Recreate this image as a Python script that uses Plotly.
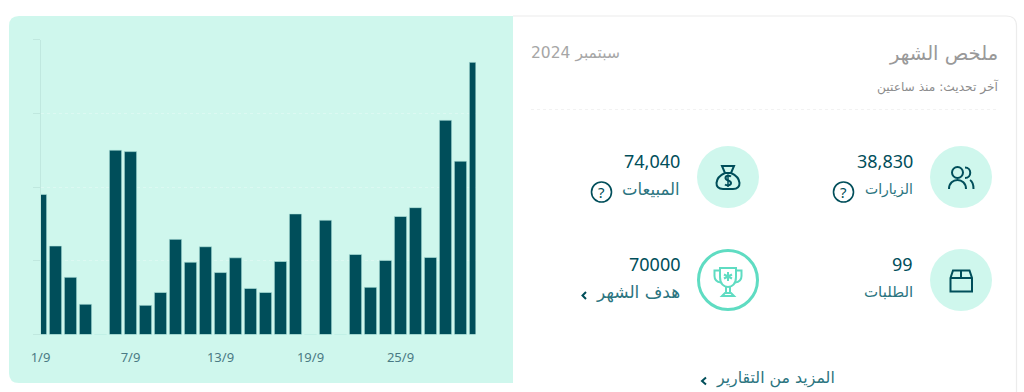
import re
import plotly.graph_objects as go

days = list(range(1, 31))
day_labels = [f"{d}/9" for d in days]
daily_sales = [3800, 2400, 1550, 820, 0, 5000, 4960, 790, 1140, 2580,
               1960, 2380, 1680, 2080, 1250, 1140, 1980, 3270, 0, 3100,
               0, 2170, 1280, 2010, 3200, 3440, 2090, 5810, 4700, 7380]
y_ticks = [0, 2000, 4000, 6000, 8000]
x_tick_days = ["1/9", "7/9", "13/9", "19/9", "25/9"]

title_text = "ملخص الشهر"
updated_text = "آخر تحديث: منذ ساعتين"
month_text = "سبتمبر 2024"
visits_value, visits_label = "38,830", "الزيارات"
sales_value, sales_label = "74,040", "المبيعات"
orders_value, orders_label = "99", "الطلبات"
goal_value, goal_label = "70000", "هدف الشهر"
more_text = "المزيد من التقارير"

W, H = 1024, 392
DARK = "#004e5a"
MID = "#2b7480"
MINT = "#cff7ed"
TEAL = "#5fdcc2"
FONT = "Noto Sans, DejaVu Sans, sans-serif"
ARFONT = "DejaVu Sans, Noto Sans, sans-serif"


def px(x):
    return x / W


def py(y):
    return 1 - y / H


def path(d):
    nums = iter(re.findall(r"[A-Za-z]|-?\d+\.?\d*", d))
    out, is_x = [], True
    for tok in nums:
        if tok.isalpha():
            out.append(tok)
            is_x = True
        else:
            out.append(f"{px(float(tok)):.5f}" if is_x else f"{py(float(tok)):.5f}")
            is_x = not is_x
    return " ".join(out)


def pshape(d, color=DARK, width=2, fill=None, layer="above", dash=None):
    line = dict(color=color, width=width)
    if dash:
        line["dash"] = dash
    return dict(type="path", xref="paper", yref="paper", path=path(d), line=line,
                fillcolor=fill or "rgba(0,0,0,0)", layer=layer)


def circle(cx, cy, r, fill=None, color=None, width=0, layer="below"):
    return dict(type="circle", xref="paper", yref="paper",
                x0=px(cx - r), x1=px(cx + r), y0=py(cy + r), y1=py(cy - r),
                fillcolor=fill or "rgba(0,0,0,0)",
                line=dict(color=color or "rgba(0,0,0,0)", width=width), layer=layer)


def label(x, y, s, size, color, anchor="right", family=ARFONT):
    shift = {"right": 2, "left": -2, "center": 0}[anchor]
    return dict(xref="paper", yref="paper", x=px(x), y=py(y), text=s, showarrow=False,
                xanchor=anchor, yanchor="middle", xshift=shift,
                font=dict(size=size, color=color, family=family))


shapes = [
    # card outline and panel
    pshape("M 513 16 L 1006 16 Q 1016.5 16 1016.5 26 L 1016.5 392", color="#ececec", width=1.2, layer="below"),
    pshape("M 513 16 L 19 16 Q 9 16 9 26 L 9 373 Q 9 383 19 383 L 513 383 Z",
           color="rgba(0,0,0,0)", width=0, fill=MINT, layer="below"),
    pshape("M 531 109.5 L 998 109.5", color="#f2f2f2", width=1, dash="dot", layer="below"),
    # icon discs
    circle(961, 177, 31, MINT),
    circle(728, 177, 31, MINT),
    circle(961, 280, 31, MINT),
    circle(728, 280, 29.5, "#ffffff", TEAL, 3),
    # help rings
    circle(843.5, 192, 10, None, DARK, 1.6, "above"),
    circle(601.5, 192, 10, None, DARK, 1.6, "above"),
    # visitors icon
    circle(957.5, 172.5, 5.5, None, DARK, 2, "above"),
    pshape("M 949 189 C 949 177 966 177 966 189"),
    pshape("M 965 167.5 C 972 167.5 972 178 965 178"),
    pshape("M 970 180 C 972.5 181.5 973.5 185 973.5 189"),
    # money bag icon
    pshape("M 722 166 L 734 166 L 731 173 C 742 178 742 189 733 189 L 723 189 C 714 189 714 178 725 173 Z"),
    pshape("M 725 173 L 731 173"),
    pshape("M 731 176.5 C 729 175 725.5 175.5 725.5 178 C 725.5 181 731 180 731 183 C 731 185.5 727 186 725 184.5"),
    pshape("M 728 174.5 L 728 187", width=1.5),
    # box icon
    pshape("M 950.5 278 L 953 270.5 L 969.5 270.5 L 972 278 L 972 291.5 L 950.5 291.5 Z"),
    pshape("M 950.5 278 L 972 278"),
    pshape("M 961 270.5 L 961 278"),
    # trophy icon
    pshape("M 720 268 L 736 268 L 736 277 C 736 284 732 287 728 287 C 724 287 720 284 720 277 Z", color=TEAL),
    pshape("M 720 270.5 L 714.5 270.5 L 714.5 276 C 714.5 280 717 282 721 282.5", color=TEAL),
    pshape("M 736 270.5 L 741.5 270.5 L 741.5 276 C 741.5 280 739 282 735 282.5", color=TEAL),
    pshape("M 726 287 L 726 293 M 730 287 L 730 293 M 722 296 L 734 296 L 731 293 L 725 293 Z", color=TEAL),
    pshape("M 728 272 L 728 281 M 724 274.5 L 732 278.5 M 732 274.5 L 724 278.5", color=TEAL),
    # chevrons
    pshape("M 586 292 L 582.5 295.5 L 586 299"),
    pshape("M 706 377.5 L 702 381 L 706 384.5"),
]

annotations = [
    label(998, 54, title_text, 19.5, "#999999"),
    label(998, 87, updated_text, 12.2, "#8c8c8c"),
    label(531, 53, month_text, 15.5, "#a6a6a6", "left"),
    label(913, 161, visits_value, 18, DARK, family=FONT),
    label(913, 189, visits_label, 14, MID),
    label(680, 161, sales_value, 18, DARK, family=FONT),
    label(680, 189, sales_label, 16.5, MID),
    label(913, 264, orders_value, 18, DARK, family=FONT),
    label(913, 292, orders_label, 15, MID),
    label(680, 264, goal_value, 18, DARK, family=FONT),
    label(680, 292, goal_label, 17, MID),
    label(835, 378, more_text, 15.8, MID),
    label(843.5, 192, "?", 15, DARK, "center", FONT),
    label(601.5, 192, "?", 15, DARK, "center", FONT),
]

fig = go.Figure(go.Bar(
    x=day_labels, y=daily_sales, width=0.82,
    marker=dict(color="#004e5a", line=dict(color="#b7e9e0", width=0.6)),
))
fig.update_layout(
    width=W, height=H, margin=dict(l=0, r=0, t=0, b=0, pad=0, autoexpand=False),
    paper_bgcolor="#ffffff", plot_bgcolor="rgba(0,0,0,0)",
    showlegend=False, shapes=shapes, annotations=annotations,
    font=dict(family=FONT),
)
fig.update_xaxes(
    domain=[px(40.5), px(475.5)], range=[0, 29], type="category", automargin=False,
    categoryorder="array", categoryarray=day_labels,
    tickmode="array", tickvals=x_tick_days, ticktext=x_tick_days,
    ticks="", showgrid=False, zeroline=False, showline=False,
    tickfont=dict(size=13, color="#4a7a84", family=FONT), ticklabelstandoff=13,
)
fig.update_yaxes(
    domain=[py(334.5), py(39.5)], range=[0, 8000], automargin=False,
    tickmode="array", tickvals=y_ticks, showticklabels=False,
    ticks="outside", ticklen=7, tickcolor="#c0e8df", tickwidth=1,
    showline=True, linecolor="#c0e8df", linewidth=1,
    showgrid=True, gridcolor="#dcf9f2", griddash="dot", gridwidth=1, zeroline=False,
)
fig.write_html("out.html", config={"displayModeBar": False},
               post_script="document.body.style.margin='0';document.body.style.overflow='hidden';")
